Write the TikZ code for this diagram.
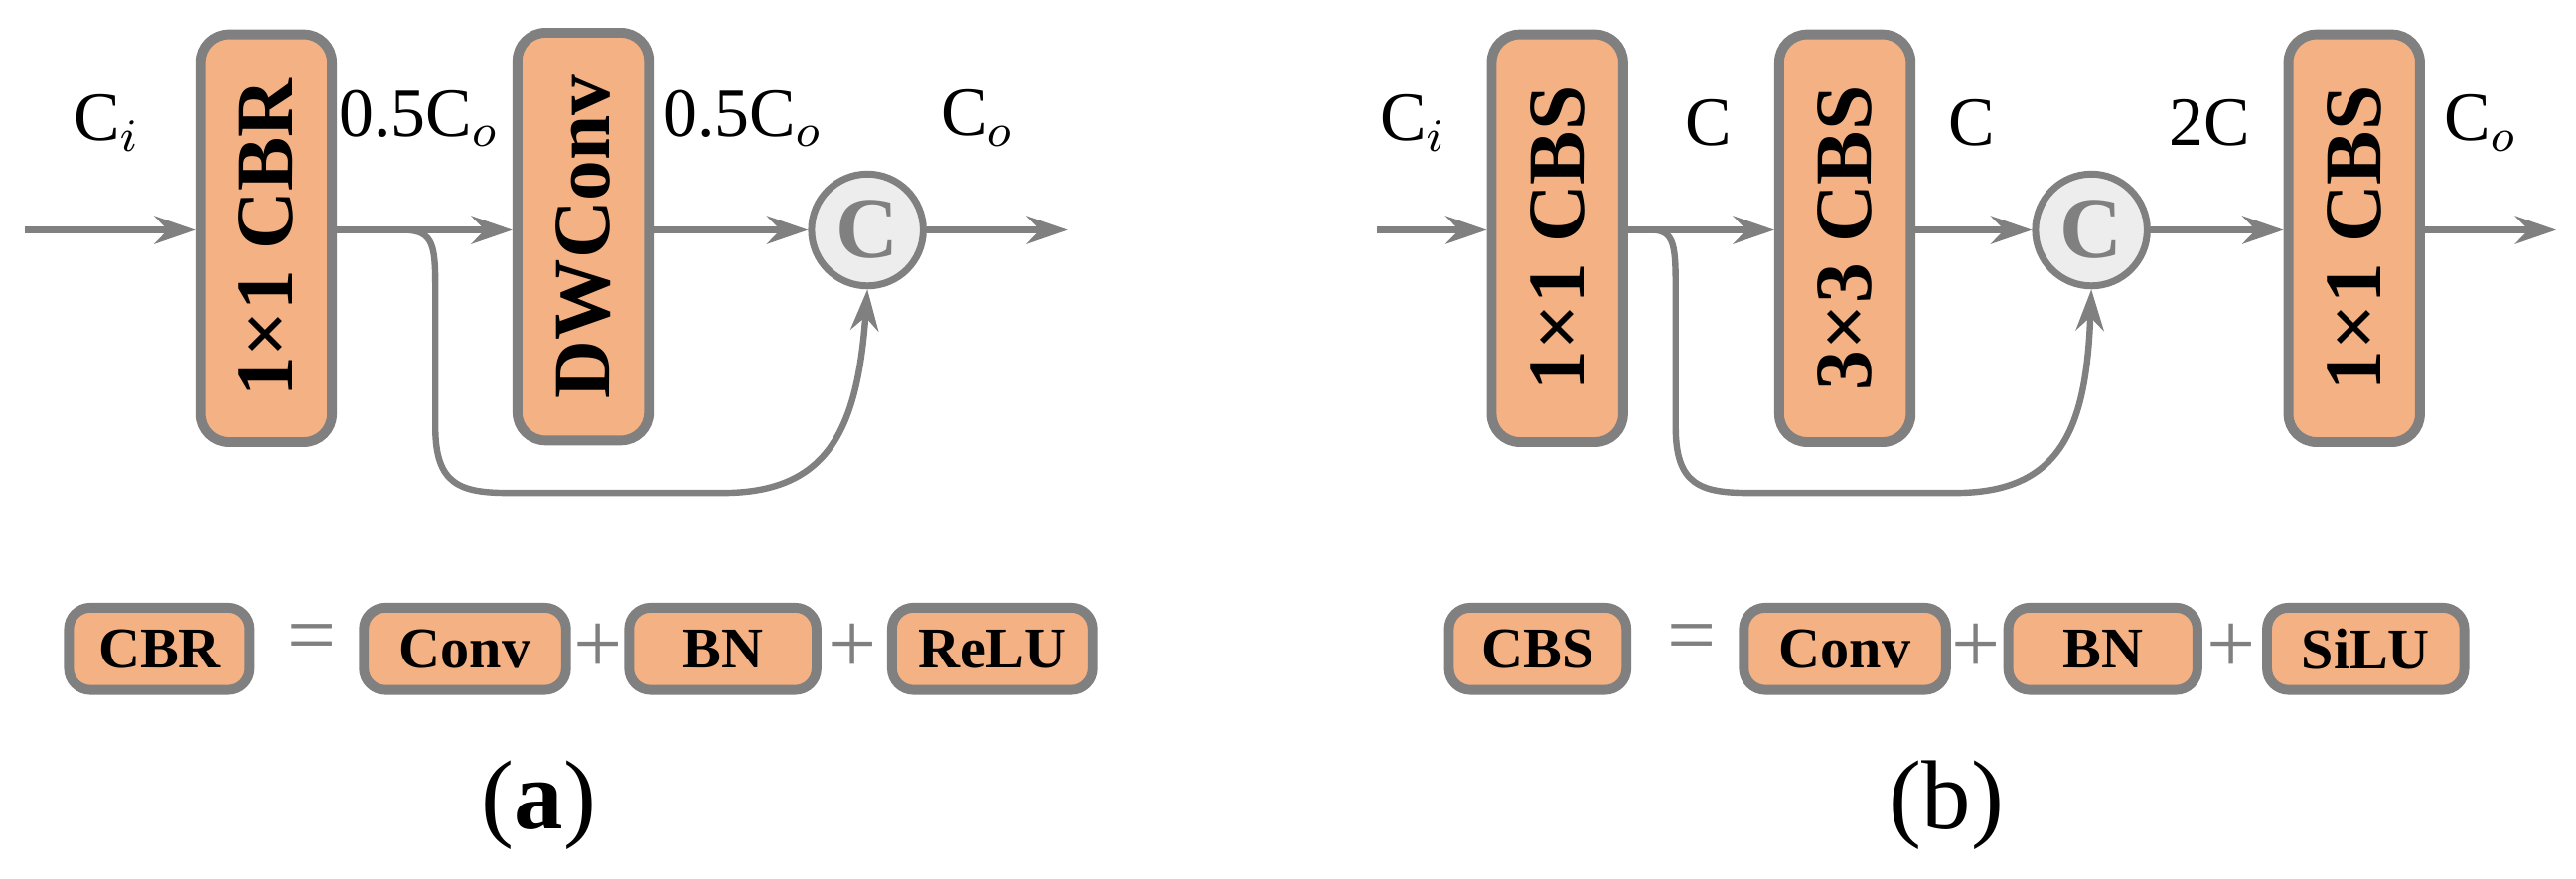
\documentclass[tikz,border=0pt]{standalone}
\usepackage{fontspec}
\setmainfont{Liberation Serif}
\usetikzlibrary{arrows.meta}
\definecolor{org}{HTML}{F4B183}
\definecolor{gr}{HTML}{808080}
\definecolor{cf}{HTML}{EDEDED}
\begin{document}
\begin{tikzpicture}[x=0.01cm,y=0.01cm,
 blk/.style={draw=gr,line width=1.7pt,fill=org,rounded corners=0.17cm,rotate=90,minimum width=2.48cm,minimum height=0.8cm,inner sep=0pt,font=\bfseries\fontsize{14}{14}\selectfont},
 sb/.style={draw=gr,line width=1.7pt,fill=org,rounded corners=0.13cm,minimum height=0.5cm,inner sep=0pt,font=\bfseries\fontsize{10}{10}\selectfont},
 cat/.style={circle,draw=gr,line width=1.2pt,fill=cf,minimum size=0.68cm,inner sep=0pt,text=gr,font=\bfseries\fontsize{15}{15}\selectfont},
 ar/.style={draw=gr,line width=1.1pt,-{Stealth[length=0.25cm,width=0.17cm]}},
 ln/.style={draw=gr,line width=1.1pt},
 lab/.style={font=\fontsize{12}{12}\selectfont},
 op/.style={text=gr,font=\fontsize{15}{15}\selectfont}]
\useasboundingbox (0,0) rectangle (1568,-535);
% (a)
\coordinate (ain) at (15,-140);
\node[blk] (a1) at (162,-145) {1×1 CBR};
\node[blk] (a2) at (355,-144) {DWConv};
\node[cat] (ac) at (528,-140) {C};
\coordinate (aout) at (650,-140);
\draw[ar] (ain) -- (a1.north |- ain);
\draw[ar] (a1.south |- ain) -- (a2.north |- ain);
\draw[ar] (a2.south |- ain) -- (ac.west);
\draw[ar] (ac.east) -- (aout);
\draw[ar] (a1.south |- ain) -- (245,-140) .. controls (265,-140) and (265,-150) .. (265,-180) -- (265,-260) .. controls (265,-295) and (280,-300) .. (310,-300) -- (440,-300) .. controls (505,-300) and (522,-260) .. (ac.south);
\node[lab] (t1) at (65,-75) {C$_i$};
\node[lab] (t2) at (255,-72) {0.5C$_o$};
\node[lab] (t3) at (452,-72) {0.5C$_o$};
\node[lab] (t4) at (595,-72) {C$_o$};
\node[sb,minimum width=1.1cm] (s1) at (97,-395) {CBR};
\node[op] (e1) at (190,-392) {=};
\node[sb,minimum width=1.23cm] (s2) at (283,-395) {Conv};
\node[op] (p1) at (364,-395) {+};
\node[sb,minimum width=1.14cm] (s3) at (440,-395) {BN};
\node[op] (p2) at (519,-395) {+};
\node[sb,minimum width=1.22cm] (s4) at (604,-395) {ReLU};
\node[font=\fontsize{17}{17}\selectfont] (la) at (330,-790) {};
\node[font=\fontsize{17}{17}\selectfont] (lla) at (328,-490) {(\textbf{a})};
% (b)
\coordinate (bin) at (838,-140);
\node[blk] (b1) at (948,-145) {1×1 CBS};
\node[blk] (b2) at (1123,-145) {3×3 CBS};
\node[cat] (bc) at (1273,-140) {C};
\node[blk] (b3) at (1433,-145) {1×1 CBS};
\coordinate (bout) at (1556,-140);
\draw[ar] (bin) -- (b1.north |- bin);
\draw[ar] (b1.south |- bin) -- (b2.north |- bin);
\draw[ar] (b2.south |- bin) -- (bc.west);
\draw[ar] (bc.east) -- (b3.north |- bc);
\draw[ar] (b3.south |- bin) -- (bout);
\draw[ar] (b1.south |- bin) -- (1005,-140) .. controls (1020,-140) and (1020,-150) .. (1020,-180) -- (1020,-260) .. controls (1020,-295) and (1035,-300) .. (1065,-300) -- (1190,-300) .. controls (1255,-300) and (1270,-260) .. (bc.south);
\node[lab] (u1) at (860,-75) {C$_i$};
\node[lab] (u2) at (1040,-75) {C};
\node[lab] (u3) at (1200,-75) {C};
\node[lab] (u4) at (1345,-75) {2C};
\node[lab] (u5) at (1510,-75) {C$_o$};
\node[sb,minimum width=1.08cm] (r1) at (936,-395) {CBS};
\node[op] (e2) at (1030,-392) {=};
\node[sb,minimum width=1.23cm] (r2) at (1123,-395) {Conv};
\node[op] (p3) at (1203,-395) {+};
\node[sb,minimum width=1.15cm] (r3) at (1280,-395) {BN};
\node[op] (p4) at (1358,-395) {+};
\node[sb,minimum width=1.2cm] (r4) at (1440,-395) {SiLU};
\node[font=\fontsize{17}{17}\selectfont] (llb) at (1185,-490) {(b)};
\end{tikzpicture}
\end{document}
